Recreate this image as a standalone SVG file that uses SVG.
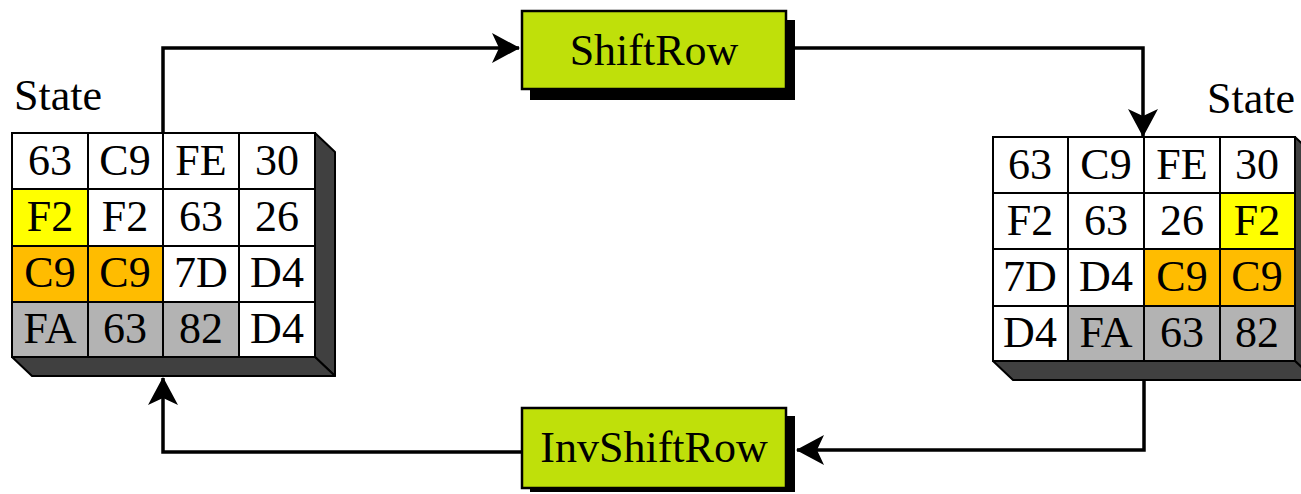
<svg xmlns="http://www.w3.org/2000/svg" width="1301" height="494" viewBox="0 0 1301 494">
<style>
.t{font-family:"Liberation Serif","Times New Roman",serif;font-size:44px;fill:#000}
.c{text-anchor:middle}
.grid{stroke:#000;stroke-width:2;fill:none}
.w{fill:#fff}
.y{fill:#ffff00}
.o{fill:#ffbc00}
.g{fill:#b3b3b3}
.side{fill:#404040;stroke:#000;stroke-width:2;stroke-linejoin:round}
.wire{fill:none;stroke:#000;stroke-width:3.5}
.op{fill:#bfe00a;stroke:#000;stroke-width:2.5}
.sh{fill:#000}
</style>
<defs>
<marker id="ah" viewBox="0 0 28 30" refX="27" refY="15" markerWidth="28" markerHeight="30" markerUnits="userSpaceOnUse" orient="auto">
<path d="M0,0 L28,15 L0,30 L7,15 Z" fill="#000"/>
</marker>
</defs>

<g id="state-left">
<text class="t" x="14" y="110">State</text>
<polygon class="side" points="315,133 335,152 335,376 315,357"/>
<polygon class="side" points="12,357 315,357 335,376 32,376"/>
<rect class="w" x="12" y="133" width="303" height="224"/>
<rect class="y" x="12" y="189" width="76" height="57"/>
<rect class="o" x="12" y="246" width="151" height="56"/>
<rect class="g" x="12" y="302" width="227" height="55"/>
<path class="grid" d="M12,133H315V357H12Z M88,133V357 M163,133V357 M239,133V357 M12,189H315 M12,246H315 M12,302H315"/>
<text class="t c" x="50" y="175">63</text><text class="t c" x="125" y="175">C9</text><text class="t c" x="201" y="175">FE</text><text class="t c" x="277" y="175">30</text>
<text class="t c" x="50" y="231">F2</text><text class="t c" x="125" y="231">F2</text><text class="t c" x="201" y="231">63</text><text class="t c" x="277" y="231">26</text>
<text class="t c" x="50" y="287">C9</text><text class="t c" x="125" y="287">C9</text><text class="t c" x="201" y="287">7D</text><text class="t c" x="277" y="287">D4</text>
<text class="t c" x="50" y="343">FA</text><text class="t c" x="125" y="343">63</text><text class="t c" x="201" y="343">82</text><text class="t c" x="277" y="343">D4</text>
</g>

<g id="state-right">
<text class="t" x="1207" y="113">State</text>
<polygon class="side" points="1295,137 1315,156 1315,380 1295,361"/>
<polygon class="side" points="993,361 1295,361 1315,380 1013,380"/>
<rect class="w" x="993" y="137" width="302" height="224"/>
<rect class="y" x="1220" y="193" width="75" height="56"/>
<rect class="o" x="1144" y="249" width="151" height="57"/>
<rect class="g" x="1068" y="306" width="227" height="55"/>
<path class="grid" d="M993,137H1295V361H993Z M1068,137V361 M1144,137V361 M1220,137V361 M993,193H1295 M993,249H1295 M993,306H1295"/>
<text class="t c" x="1030" y="179">63</text><text class="t c" x="1106" y="179">C9</text><text class="t c" x="1182" y="179">FE</text><text class="t c" x="1257" y="179">30</text>
<text class="t c" x="1030" y="235">F2</text><text class="t c" x="1106" y="235">63</text><text class="t c" x="1182" y="235">26</text><text class="t c" x="1257" y="235">F2</text>
<text class="t c" x="1030" y="291">7D</text><text class="t c" x="1106" y="291">D4</text><text class="t c" x="1182" y="291">C9</text><text class="t c" x="1257" y="291">C9</text>
<text class="t c" x="1030" y="347">D4</text><text class="t c" x="1106" y="347">FA</text><text class="t c" x="1182" y="347">63</text><text class="t c" x="1257" y="347">82</text>
</g>

<g id="shiftrow">
<rect class="sh" x="530" y="20" width="265" height="80"/>
<rect class="op" x="522" y="11" width="264" height="78"/>
<text class="t c" x="654" y="65">ShiftRow</text>
</g>

<g id="invshiftrow">
<rect class="sh" x="530" y="416" width="265" height="76"/>
<rect class="op" x="522" y="408" width="264" height="80"/>
<text class="t c" x="654" y="462">InvShiftRow</text>
</g>

<g id="connectors">
<path class="wire" d="M163,133V48H519" marker-end="url(#ah)"/>
<path class="wire" d="M786,48H1143V136" marker-end="url(#ah)"/>
<path class="wire" d="M1144,380V450H797" marker-end="url(#ah)"/>
<path class="wire" d="M522,452H163V378" marker-end="url(#ah)"/>
</g>
</svg>
